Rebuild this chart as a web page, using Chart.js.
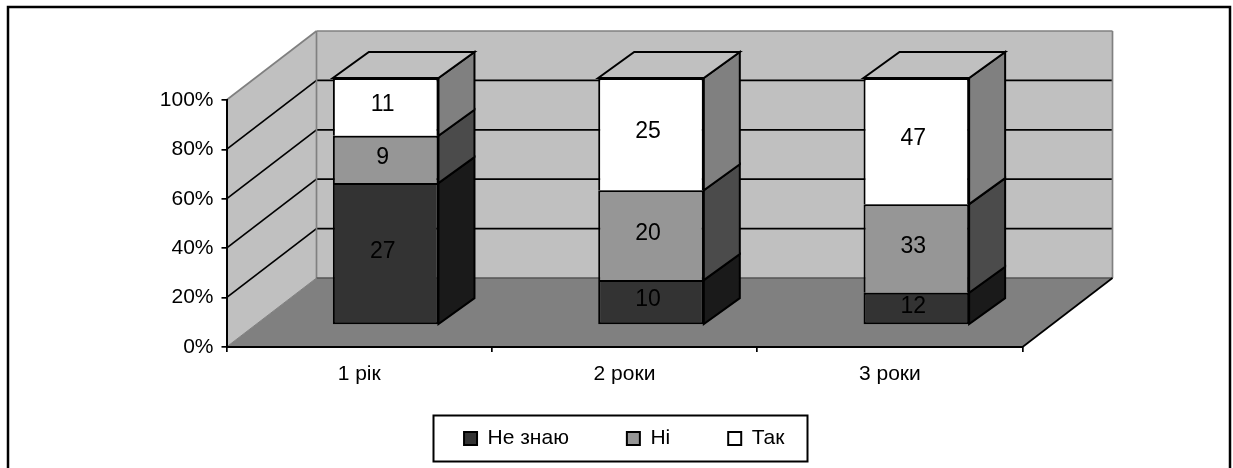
<!DOCTYPE html>
<html>
<head>
<meta charset="utf-8">
<title>Опитування</title>
<script src="https://cdn.jsdelivr.net/npm/chart.js@4"></script>
<style>
  html, body { margin: 0; padding: 0; background: #fff; }
  canvas { display: block; }
</style>
</head>
<body>
<canvas id="chartRoki" width="1233" height="468"></canvas>
<script>
const categories = ['1 рік', '2 роки', '3 роки'];
const neZnayu = [27, 10, 12];
const ni = [9, 20, 33];
const tak = [11, 25, 47];
const yTicks = [0, 20, 40, 60, 80, 100];

const counts = [neZnayu, ni, tak];
const totals = categories.map((_, i) => neZnayu[i] + ni[i] + tak[i]);
const share = arr => arr.map((v, i) => v / totals[i] * 100);

// depth of the box and of the columns inside it
const boxDx = 90, boxDy = -69;
const barShiftX = 26.5, barShiftY = -22;
const barDx = 36, barDy = -26;

const FONT = '"Liberation Sans", Arial, sans-serif';

function poly(ctx, pts, fill, stroke, lw) {
  ctx.beginPath();
  pts.forEach((p, i) => i ? ctx.lineTo(p[0], p[1]) : ctx.moveTo(p[0], p[1]));
  ctx.closePath();
  if (fill) { ctx.fillStyle = fill; ctx.fill(); }
  if (stroke) { ctx.strokeStyle = stroke; ctx.lineWidth = lw; ctx.stroke(); }
}

function line(ctx, x1, y1, x2, y2, color, lw) {
  ctx.beginPath();
  ctx.moveTo(x1, y1);
  ctx.lineTo(x2, y2);
  ctx.strokeStyle = color;
  ctx.lineWidth = lw;
  ctx.stroke();
}

const box3d = {
  id: 'box3d',
  afterLayout(chart) {
    // legend sits centred under the box, not under the whole canvas
    const lg = chart.legend;
    const h = lg.height, w = lg.width;
    lg.left = 113;
    lg.right = lg.left + w;
    lg.top = 370;
    lg.bottom = lg.top + h;
  },
  beforeDraw(chart) {
    const { ctx, chartArea: a, scales: { y } } = chart;
    const l = a.left, r = a.right, b = a.bottom, t = a.top;
    ctx.save();
    // outer frame
    ctx.strokeStyle = '#000';
    ctx.lineWidth = 2.5;
    ctx.strokeRect(8, 7, 1222, 480);

    // walls and floor
    poly(ctx, [[l + boxDx, t + boxDy], [r + boxDx, t + boxDy], [r + boxDx, b + boxDy], [l + boxDx, b + boxDy]], '#c0c0c0');
    poly(ctx, [[l, t], [l + boxDx, t + boxDy], [l + boxDx, b + boxDy], [l, b]], '#c0c0c0');
    poly(ctx, [[l, b], [l + boxDx, b + boxDy], [r + boxDx, b + boxDy], [r, b]], '#808080');

    // gridlines run along the side wall and across the back wall
    yTicks.slice(1, -1).forEach(v => {
      const py = y.getPixelForValue(v);
      line(ctx, l, py, l + boxDx, py + boxDy, '#000', 1.7);
      line(ctx, l + boxDx, py + boxDy, r + boxDx, py + boxDy, '#000', 1.7);
    });

    // wall edges
    line(ctx, l, t, l + boxDx, t + boxDy, '#808080', 1.7);
    line(ctx, l + boxDx, t + boxDy, r + boxDx, t + boxDy, '#808080', 1.7);
    line(ctx, r + boxDx, t + boxDy, r + boxDx, b + boxDy, '#808080', 1.7);
    line(ctx, l + boxDx, t + boxDy, l + boxDx, b + boxDy, '#808080', 1.7);
    line(ctx, l + boxDx, b + boxDy, r + boxDx, b + boxDy, '#555', 1.7);
    line(ctx, l, b, l + boxDx, b + boxDy, '#808080', 1);
    line(ctx, r, b, r + boxDx, b + boxDy, '#000', 1.7);
    ctx.restore();
  },
  beforeDatasetsDraw(chart) {
    chart.ctx.save();
    chart.ctx.translate(barShiftX, barShiftY);
  },
  afterDatasetsDraw(chart) {
    const ctx = chart.ctx;
    const sideColors = ['#1a1a1a', '#4b4b4b', '#808080'];
    const last = counts.length - 1;
    counts.forEach((arr, d) => {
      chart.getDatasetMeta(d).data.forEach(bar => {
        const right = bar.x + bar.width / 2;
        const left = bar.x - bar.width / 2;
        poly(ctx, [[right, bar.y], [right + barDx, bar.y + barDy], [right + barDx, bar.base + barDy], [right, bar.base]],
          sideColors[d], '#000', 2);
        if (d === last) {
          poly(ctx, [[left, bar.y], [left + barDx, bar.y + barDy], [right + barDx, bar.y + barDy], [right, bar.y]],
            '#c0c0c0', '#000', 2);
        }
      });
    });
    // segment labels carry the raw counts
    ctx.fillStyle = '#000';
    ctx.font = '23px ' + FONT;
    ctx.textAlign = 'center';
    ctx.textBaseline = 'middle';
    counts.forEach((arr, d) => {
      chart.getDatasetMeta(d).data.forEach((bar, i) => {
        ctx.fillText(String(arr[i]), bar.x - 3, (bar.y + bar.base) / 2 - 2);
      });
    });
    ctx.restore();
  },
  afterDraw(chart) {
    // box around the legend
    const ctx = chart.ctx;
    ctx.save();
    ctx.strokeStyle = '#000';
    ctx.lineWidth = 2;
    ctx.strokeRect(433.5, 415.5, 374, 46);
    ctx.restore();
  }
};

new Chart(document.getElementById('chartRoki'), {
  type: 'bar',
  data: {
    labels: categories,
    datasets: [
      // only the lowest segment keeps its bottom edge, the others share a line
      { label: 'Не знаю', data: share(neZnayu), backgroundColor: '#333333', borderSkipped: false },
      { label: 'Ні', data: share(ni), backgroundColor: '#969696', borderSkipped: 'bottom' },
      { label: 'Так', data: share(tak), backgroundColor: '#ffffff', borderSkipped: 'bottom' }
    ].map(ds => ({ ...ds, borderColor: '#000', borderWidth: 2, barPercentage: 0.398, categoryPercentage: 1 }))
  },
  options: {
    responsive: false,
    animation: false,
    layout: { padding: { top: 100, right: 210.5, bottom: -18, left: 0 } },
    scales: {
      x: {
        stacked: true,
        afterFit: s => { s.height = 50; },
        border: { color: '#000', width: 2 },
        grid: { drawOnChartArea: false, color: '#000', lineWidth: 1.7, tickLength: 5 },
        ticks: { color: '#000', font: { family: FONT, size: 21 }, padding: 10, maxRotation: 0 }
      },
      y: {
        stacked: true,
        min: 0,
        max: 100,
        afterFit: s => { s.width = 226.5; },
        border: { color: '#000', width: 2 },
        grid: { drawOnChartArea: false, color: '#000', lineWidth: 1.7, tickLength: 5 },
        ticks: {
          stepSize: 20,
          padding: 8,
          color: '#000',
          font: { family: FONT, size: 21 },
          callback: v => v + '%'
        }
      }
    },
    plugins: {
      tooltip: { enabled: false },
      legend: {
        position: 'bottom',
        labels: {
          color: '#000',
          font: { family: FONT, size: 21 },
          boxWidth: 13,
          boxHeight: 13,
          padding: 58,
          generateLabels: chart => chart.data.datasets.map((ds, i) => ({
            text: ds.label,
            fillStyle: ds.backgroundColor,
            strokeStyle: '#000',
            lineWidth: 2,
            datasetIndex: i
          }))
        }
      }
    }
  },
  plugins: [box3d]
});
</script>
</body>
</html>
